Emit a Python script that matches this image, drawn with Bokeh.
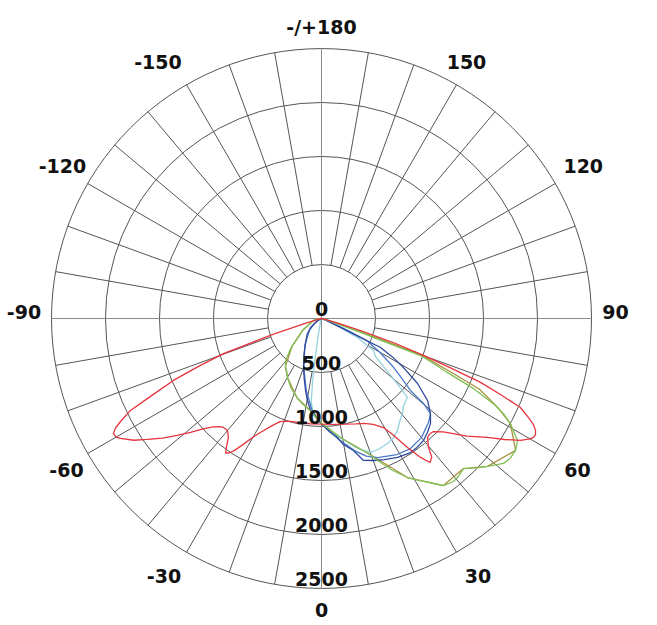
import numpy as np
from bokeh.plotting import figure
from bokeh.models import Range1d
from bokeh.embed import file_html
from bokeh.resources import INLINE
from bokeh.core.properties import value

# ---------------- data (gamma in degrees from nadir, intensity in cd) ----------------
ring_values = [500, 1000, 1500, 2000, 2500]
ring_labels = ["0", "500", "1000", "1500", "2000", "2500"]
ring_label_values = [0, 500, 1000, 1500, 2000, 2500]
angle_labels = ["-/+180", "150", "120", "90", "60", "30", "0", "-30", "-60", "-90", "-120", "-150"]
angle_label_values = [180, 150, 120, 90, 60, 30, 0, -30, -60, -90, -120, -150]

red_gamma = [-90, -80, -76, -74, -72, -70.3, -68.7, -67.3, -65.6, -64.3, -63, -62, -61.1, -60, -59.2, -57,
             -55.2, -53, -51, -49, -47, -45, -43, -42, -40, -38, -36.5, -35.5, -34.5, -33.5, -32, -30, -28,
             -25, -22, -18, -12, -6, 0, 6, 12, 18, 22, 26, 29.6, 31.5, 33.7, 35.5, 37, 38.5, 39.7, 41.7, 43,
             44.7, 47, 48.9, 51, 54.4, 56.5, 58.5, 60, 60.7, 61.5, 62.4, 63.5, 64.5, 65.9, 67, 68.1, 69,
             70.1, 71.5, 72.9, 74, 76, 80, 90]
red_cd = [0, 20, 40, 135, 460, 964, 1222, 1486, 1728, 1963, 2080, 2160, 2201, 2195, 2168, 2070,
          1962, 1840, 1720, 1608, 1500, 1420, 1370, 1357, 1354, 1400, 1480, 1530, 1510, 1470, 1380, 1270, 1190,
          1100, 1030, 1000, 985, 980, 978, 985, 1000, 1025, 1047, 1090, 1161, 1260, 1435, 1580, 1670, 1640, 1552,
          1476, 1465, 1473, 1540, 1621, 1730, 1891, 2030, 2161, 2230, 2251, 2255, 2236, 2190, 2120, 2018, 1800,
          1587, 1290, 1005, 700, 378, 150, 60, 20, 0]

green_gamma = [-90, -80, -76, -68, -62, -58, -52, -47, -44, -41, -37, -33, -30, -24, -17, -12, -7, 0, 5, 9, 14,
               19, 22.3, 25, 28.4, 31.4, 34, 36.1, 39, 41, 43.4, 46, 48.3, 51.5, 53.5, 55.8, 58.1, 60.9, 62.4,
               63.5, 65.2, 66.9, 68.2, 69.5, 70.3, 71.5, 74, 80, 90]
green_cd = [0, 10, 76, 110, 150, 208, 260, 370, 430, 500, 556, 590, 630, 700, 770, 815, 858, 972, 1040, 1116, 1210,
            1320, 1441, 1550, 1674, 1758, 1840, 1915, 1942, 1935, 1913, 1990, 2059, 2155, 2175, 2173, 2138, 2002, 1901,
            1790, 1560, 1249, 1110, 979, 384, 150, 50, 10, 0]

olive_gamma = [-90, -76, -58, -47, -37, -30, -17, -7, 0, 9, 19, 28.4, 36.1, 43.4, 48.3, 55.8, 60.9, 63.2, 65.9,
               67.5, 69.8, 71.2, 73, 76, 90]
olive_cd = [0, 76, 208, 370, 556, 630, 770, 858, 972, 1116, 1320, 1674, 1915, 1913, 2059, 2173, 2002, 1830, 1600,
            1300, 990, 500, 200, 50, 0]

navy_gamma = [-90, -70, -60, -50.7, -42, -32.6, -26, -20.2, -16, -12.5, -9.7, -6.8, -3, 0, 4, 7.7, 9.7, 13.6,
              16.5, 20.1, 24, 28.7, 33.6, 36.5, 39.9, 43, 46.1, 48.9, 52.3, 55.9, 59.1, 61.5, 63.8, 64, 64.5,
              66, 70, 90]
navy_cd = [0, 10, 50, 131, 200, 275, 370, 483, 580, 683, 770, 858, 920, 975, 1050, 1112, 1180, 1257,
           1371, 1400, 1430, 1467, 1490, 1485, 1472, 1440, 1401, 1339, 1241, 1074, 885, 750, 609, 420, 250,
           100, 20, 0]

blue_gamma = [-90, -65, -55, -45, -32, -20, -12, -6, 0, 8, 14, 18, 22, 29, 34, 40, 46, 48.9, 50.2, 51, 52.9,
              56, 60, 64, 66, 70, 90]
blue_cd = [0, 20, 80, 160, 290, 480, 680, 850, 975, 1130, 1260, 1340, 1390, 1440, 1460, 1440, 1380, 1339, 1229,
           1060, 952, 800, 620, 470, 250, 60, 0]

cyan_gamma = [-90, -30, -15, -11, -9, -8, -7, -5, -2, 0, 4, 9, 15.5, 20.1, 24, 27.8, 31, 34.2, 37, 40.4, 43,
              47.4, 49, 52, 55, 58.4, 62, 66, 72, 90]
cyan_cd = [0, 10, 40, 150, 400, 600, 780, 880, 940, 975, 1050, 1116, 1249, 1321, 1320, 1309, 1290, 1253, 1200,
           1156, 1110, 1081, 950, 740, 610, 565, 380, 150, 30, 0]

# ---------------- layout ----------------
SCALE = 0.108          # pixels per cd
W, H = 657, 625
CX, CY = 321, 318      # pixel position of the pole inside the figure
LABEL_R_PX = 293
RING_LABEL_LIFT_PX = 10
# small per-label nudges (pixels, x right / y down) for the outer angle labels
label_nudge_px = [(0, 1), (-1.5, -2.3), (8, -6.5), (1, -6.5), (2.3, 5), (10, 3.3),
                  (0, -2), (-11, 3.3), (-1.3, 5), (-4.5, -6.5), (-5.3, -6.5), (-17, -2.3)]


def pol(g, r):
    g = np.radians(np.asarray(g, dtype=float))
    r = np.asarray(r, dtype=float)
    return r * np.sin(g), -r * np.cos(g)


p = figure(width=W, height=H, output_backend="svg", toolbar_location=None,
           x_range=Range1d(-CX / SCALE, (W - CX) / SCALE),
           y_range=Range1d(-(H - CY) / SCALE, CY / SCALE),
           x_axis_type=None, y_axis_type=None, min_border=0)
p.grid.visible = False
p.outline_line_color = None
p.background_fill_color = "white"
p.border_fill_color = "white"

GRID = "#555555"
R_MAX = ring_values[-1]
R_MIN = ring_values[0]

# rings
p.circle(x=[0] * len(ring_values), y=[0] * len(ring_values), radius=ring_values,
         fill_color=None, line_color=GRID, line_width=1)

# spokes every 10 degrees (outside the first ring)
spoke_angles = [a for a in range(-170, 181, 10) if a % 90 != 0]
x0, y0 = pol(spoke_angles, [R_MIN] * len(spoke_angles))
x1, y1 = pol(spoke_angles, [R_MAX] * len(spoke_angles))
p.segment(x0=x0, y0=y0, x1=x1, y1=y1, line_color=GRID, line_width=1)

# main cross through the pole
p.segment(x0=[-R_MAX, 0], y0=[0, -R_MAX], x1=[R_MAX, 0], y1=[0, R_MAX], line_color="#8a8a8a", line_width=1)

# curves
curves = [
    (olive_gamma, olive_cd, "#a89040"),
    (cyan_gamma, cyan_cd, "#94d2dc"),
    (blue_gamma, blue_cd, "#4a78c8"),
    (navy_gamma, navy_cd, "#2f4a9c"),
    (green_gamma, green_cd, "#80c156"),
    (red_gamma, red_cd, "#e8343e"),
]
for g, cd, col in curves:
    x, y = pol(g, cd)
    p.line(x, y, line_color=col, line_width=1.3)

FONT = value("DejaVu Sans")

# intensity labels just above each ring on the nadir axis
p.text(x=[0] * len(ring_label_values), y=[-v + RING_LABEL_LIFT_PX / SCALE for v in ring_label_values],
       text=ring_labels,
       text_font=FONT, text_font_style="bold", text_font_size="19px", text_color="#111111",
       text_align="center", text_baseline="middle")

# angle labels around the outside
lx, ly = pol(angle_label_values, [LABEL_R_PX / SCALE] * len(angle_label_values))
lx = lx + np.array([n[0] for n in label_nudge_px]) / SCALE
ly = ly - np.array([n[1] for n in label_nudge_px]) / SCALE
p.text(x=lx, y=ly, text=angle_labels,
       text_font=FONT, text_font_style="bold", text_font_size="19px", text_color="#111111",
       text_align="center", text_baseline="middle")

open("out.html", "w").write(file_html(p, INLINE))
